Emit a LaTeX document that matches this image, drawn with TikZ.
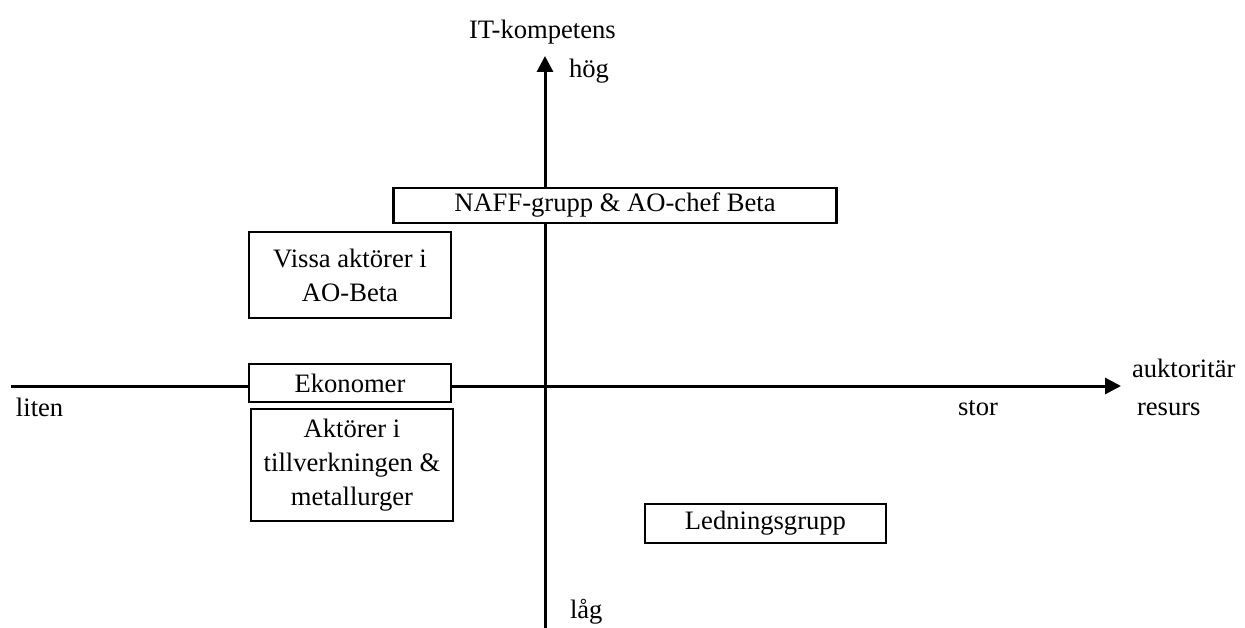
\documentclass[tikz,border=0pt]{standalone}
\usepackage{fontspec}
\setmainfont{Liberation Serif}
\usetikzlibrary{arrows.meta}
\begin{document}
\begin{tikzpicture}[x=1pt,y=-1pt,
  every node/.style={font=\fontsize{26.6}{34}\selectfont},
  axis/.style={line width=3pt,-{Triangle[length=16pt,width=16pt]}},
  actor/.style={draw,line width=2.2pt,fill=white,align=center,inner sep=0pt,outer sep=0pt},
  lbl/.style={inner sep=0pt,outer sep=0pt,anchor=base west}]
  \useasboundingbox (0,0) rectangle (1245,628);

  % axes
  \coordinate (hstart) at (11,386);
  \coordinate (hend) at (1121,386);
  \coordinate (vstart) at (545,628);
  \coordinate (vend) at (545,56);
  \draw[axis] (hstart) -- (hend);
  \draw[axis] (vstart) -- (vend);

  % axis labels
  \node[lbl] (itk) at (469,39) {IT-kompetens};
  \node[lbl] (hog) at (569,78) {hög};
  \node[lbl] (lag) at (570,618) {låg};
  \node[lbl] (liten) at (16,416) {liten};
  \node[lbl] (stor) at (958,415) {stor};
  \node[lbl] (aukt) at (1132,377) {auktoritär};
  \node[lbl] (resurs) at (1137,415) {resurs};

  % actor groups
  \node[actor,minimum width=443pt,minimum height=35pt] (naff) at (615,205.5) {NAFF-grupp \& AO-chef Beta};
  \node[actor,minimum width=202pt,minimum height=86pt] (vissa) at (350,275) {Vissa aktörer i\\AO-Beta};
  \node[actor,minimum width=202pt,minimum height=38pt] (ekon) at (350,383) {Ekonomer};
  \node[actor,minimum width=202pt,minimum height=112pt] (akt) at (352,465) {Aktörer i\\tillverkningen \&\\metallurger};
  \node[actor,minimum width=241pt,minimum height=39pt] (led) at (765.5,523.5) {Ledningsgrupp};
\end{tikzpicture}
\end{document}
